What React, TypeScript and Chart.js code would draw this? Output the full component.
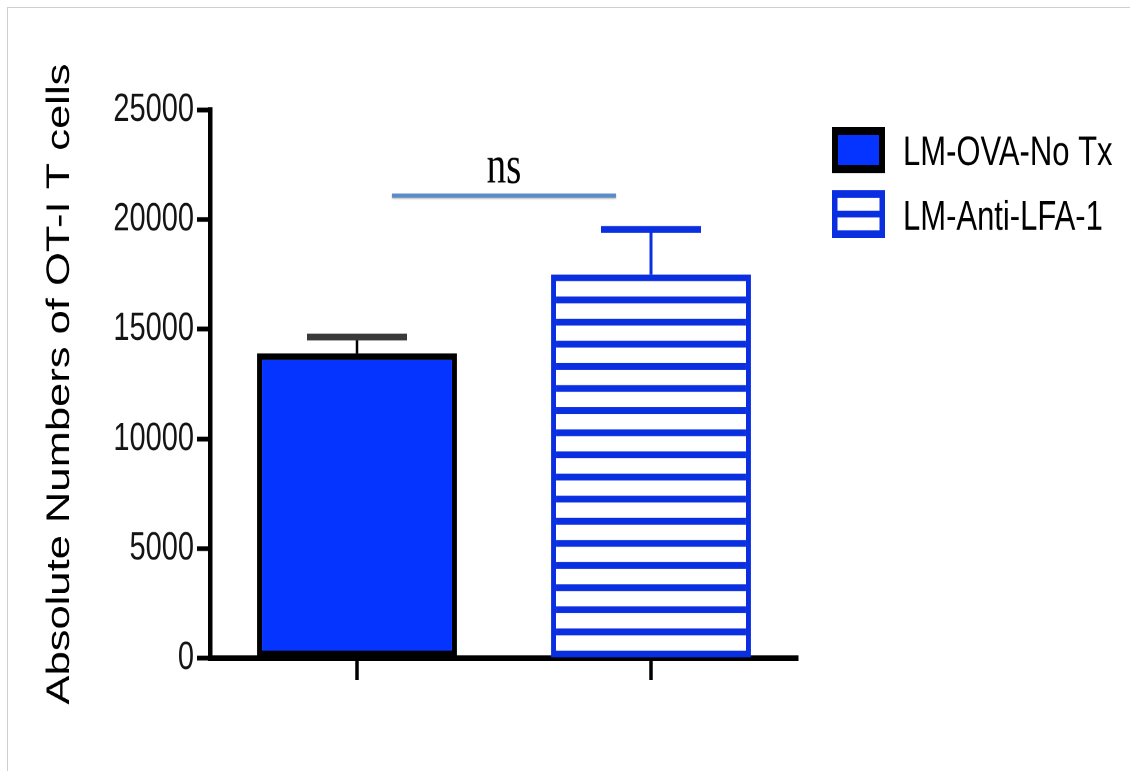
import React, { useEffect, useRef } from 'react';
import { Chart, registerables } from 'chart.js';

Chart.register(...registerables);

// ---- data ----
const GROUPS = ['LM-OVA-No Tx', 'LM-Anti-LFA-1'];
const MEANS = [13900, 17500];
const ERRORS = [750, 2050];
const Y_TICKS = [0, 5000, 10000, 15000, 20000, 25000];
const Y_TITLE = 'Absolute Numbers of OT-I T cells';
const SIG_LABEL = 'ns';
const SIG_LEVEL = 21100;

// ---- drawing constants ----
const W = 1114;
const H = 555;
const STRETCH = 1.36; // the drawing is shown taller than it is drawn

const SOLID_BLUE = '#0533FF';
const HATCH_BLUE = '#0A2FE0';
const SIG_BLUE = '#5A8CC8';
const SANS = '"Liberation Sans", Arial, Helvetica, sans-serif';
const SERIF = '"Liberation Serif", "Times New Roman", serif';

// horizontal hatching inside the second bar
const hatchPlugin = {
  id: 'hatch',
  afterDatasetsDraw(chart: any) {
    const el = chart.getDatasetMeta(0).data[1];
    if (!el) return;
    const { x, y, base, width } = el.getProps(['x', 'y', 'base', 'width'], true);
    const bw = 5;
    const left = x - width / 2 + bw;
    const right = x + width / 2 - bw;
    const top = y + bw;
    const bottom = base - bw;
    const t = 5;
    const inner = bottom - top;
    const k = Math.max(0, Math.round((inner - 11) / 16));
    const gap = (inner - k * t) / (k + 1);
    const ctx = chart.ctx;
    ctx.save();
    ctx.fillStyle = HATCH_BLUE;
    for (let i = 0; i < k; i++) {
      const sy = top + gap * (i + 1) + t * i;
      ctx.fillRect(left, sy, right - left, t);
    }
    ctx.restore();
  },
};

// error bars (mean + error) with caps
const errorBarPlugin = {
  id: 'errorBars',
  afterDatasetsDraw(chart: any) {
    const ctx = chart.ctx;
    const yScale = chart.scales.y;
    const meta = chart.getDatasetMeta(0);
    const stemColors = ['#000000', HATCH_BLUE];
    const capColors = ['#3a3a3a', HATCH_BLUE];
    const stemWidths = [2.5, 3];
    meta.data.forEach((el: any, i: number) => {
      const { x, y } = el.getProps(['x', 'y'], true);
      const top = yScale.getPixelForValue(MEANS[i] + ERRORS[i]);
      ctx.save();
      ctx.strokeStyle = stemColors[i];
      ctx.lineWidth = stemWidths[i];
      ctx.beginPath();
      ctx.moveTo(x, y);
      ctx.lineTo(x, top);
      ctx.stroke();
      ctx.strokeStyle = capColors[i];
      ctx.lineWidth = 5;
      ctx.beginPath();
      ctx.moveTo(x - 50, top);
      ctx.lineTo(x + 50, top);
      ctx.stroke();
      ctx.restore();
    });
  },
};

// significance bar with its label
const sigPlugin = {
  id: 'significance',
  afterDraw(chart: any) {
    const ctx = chart.ctx;
    const xs = chart.scales.x;
    const ys = chart.scales.y;
    const mid = (xs.getPixelForValue(0) + xs.getPixelForValue(1)) / 2;
    const yLine = ys.getPixelForValue(SIG_LEVEL);
    ctx.save();
    ctx.shadowColor = 'rgba(0,0,0,0.35)';
    ctx.shadowBlur = 3;
    ctx.shadowOffsetY = 1.5;
    ctx.strokeStyle = SIG_BLUE;
    ctx.lineWidth = 3;
    ctx.beginPath();
    ctx.moveTo(mid - 112, yLine);
    ctx.lineTo(mid + 112, yLine);
    ctx.stroke();
    ctx.restore();
    ctx.save();
    ctx.fillStyle = '#000';
    ctx.font = `39px ${SERIF}`;
    ctx.textAlign = 'center';
    ctx.textBaseline = 'alphabetic';
    ctx.fillText(SIG_LABEL, mid, yLine - 9.5);
    ctx.restore();
  },
};

// legend to the right of the plot
const legendPlugin = {
  id: 'sideLegend',
  afterDraw(chart: any) {
    const ctx = chart.ctx;
    const labels: string[] = chart.data.labels;
    const ds = chart.data.datasets[0];
    const bx = 824;
    const bwid = 53;
    const rows = [
      { y: 87.5, h: 34, base: 115.4 },
      { y: 134, h: 35, base: 163.2 },
    ];
    ctx.save();
    // solid box
    const r0 = rows[0];
    ctx.fillStyle = ds.backgroundColor[0];
    ctx.fillRect(bx, r0.y, bwid, r0.h);
    ctx.strokeStyle = ds.borderColor[0];
    ctx.lineWidth = 6;
    ctx.strokeRect(bx + 3, r0.y + 3, bwid - 6, r0.h - 6);
    // hatched box
    const r1 = rows[1];
    ctx.fillStyle = '#ffffff';
    ctx.fillRect(bx, r1.y, bwid, r1.h);
    ctx.strokeStyle = ds.borderColor[1];
    ctx.lineWidth = 5.5;
    ctx.strokeRect(bx + 2.75, r1.y + 2.75, bwid - 5.5, r1.h - 5.5);
    ctx.fillStyle = ds.borderColor[1];
    ctx.fillRect(bx + 4, r1.y + r1.h / 2 - 2.5, bwid - 8, 5);
    // text
    ctx.fillStyle = '#000';
    ctx.font = `31px ${SANS}`;
    ctx.textAlign = 'left';
    ctx.textBaseline = 'alphabetic';
    labels.forEach((lab, i) => ctx.fillText(lab, 895, rows[i].base));
    ctx.restore();
  },
};

export default function App() {
  const ref = useRef<HTMLCanvasElement | null>(null);

  useEffect(() => {
    if (!ref.current) return;
    const chart = new Chart(ref.current, {
      type: 'bar',
      data: {
        labels: GROUPS,
        datasets: [
          {
            label: 'OT-I T cells',
            data: MEANS,
            backgroundColor: [SOLID_BLUE, '#ffffff'],
            borderColor: ['#000000', HATCH_BLUE],
            borderWidth: 5,
            borderSkipped: false,
            barPercentage: 0.68,
            categoryPercentage: 1,
          } as any,
        ],
      },
      options: {
        animation: false,
        responsive: true,
        maintainAspectRatio: false,
        devicePixelRatio: 2,
        layout: { padding: { top: 75, right: 324, bottom: 0, left: 0 } },
        plugins: {
          legend: { display: false },
          tooltip: { enabled: false },
        },
        scales: {
          x: {
            offset: true,
            afterFit: (s: any) => {
              s.height = 77;
            },
            border: { display: true, color: '#000', width: 4 },
            grid: {
              offset: false,
              drawOnChartArea: false,
              drawTicks: true,
              tickLength: 16,
              tickWidth: 3.5,
              tickColor: '#000',
            },
            ticks: { display: false },
          },
          y: {
            min: 0,
            max: 25000,
            afterBuildTicks: (s: any) => {
              s.ticks = Y_TICKS.map((v) => ({ value: v }));
            },
            afterFit: (s: any) => {
              s.width = 202;
            },
            border: { display: true, color: '#000', width: 4.5 },
            grid: {
              drawOnChartArea: false,
              drawTicks: true,
              tickLength: 13,
              tickWidth: 3.5,
              tickColor: '#000',
            },
            ticks: {
              color: '#141414',
              padding: 3,
              font: { family: SANS, size: 29 },
              callback: (v: any) => String(v),
            },
            title: {
              display: true,
              text: Y_TITLE,
              color: '#000',
              font: { family: SANS, size: 32 },
              padding: { top: 33, bottom: 0 },
            },
          },
        },
      } as any,
      plugins: [hatchPlugin, errorBarPlugin, sigPlugin, legendPlugin],
    });
    return () => chart.destroy();
  }, []);

  return (
    <div style={{ position: 'relative', width: W, height: 755 }}>
      {/* thin page frame along the top and left edges */}
      <div
        style={{
          position: 'fixed',
          left: 7,
          top: 7,
          right: -10,
          bottom: -10,
          borderTop: '1px solid #cfcfcf',
          borderLeft: '1px solid #cfcfcf',
          pointerEvents: 'none',
        }}
      />
      <div
        style={{
          position: 'absolute',
          left: 0,
          top: 0,
          width: W,
          height: H,
          transform: `scaleY(${STRETCH})`,
          transformOrigin: '0 0',
        }}
      >
        <canvas ref={ref} />
      </div>
    </div>
  );
}
